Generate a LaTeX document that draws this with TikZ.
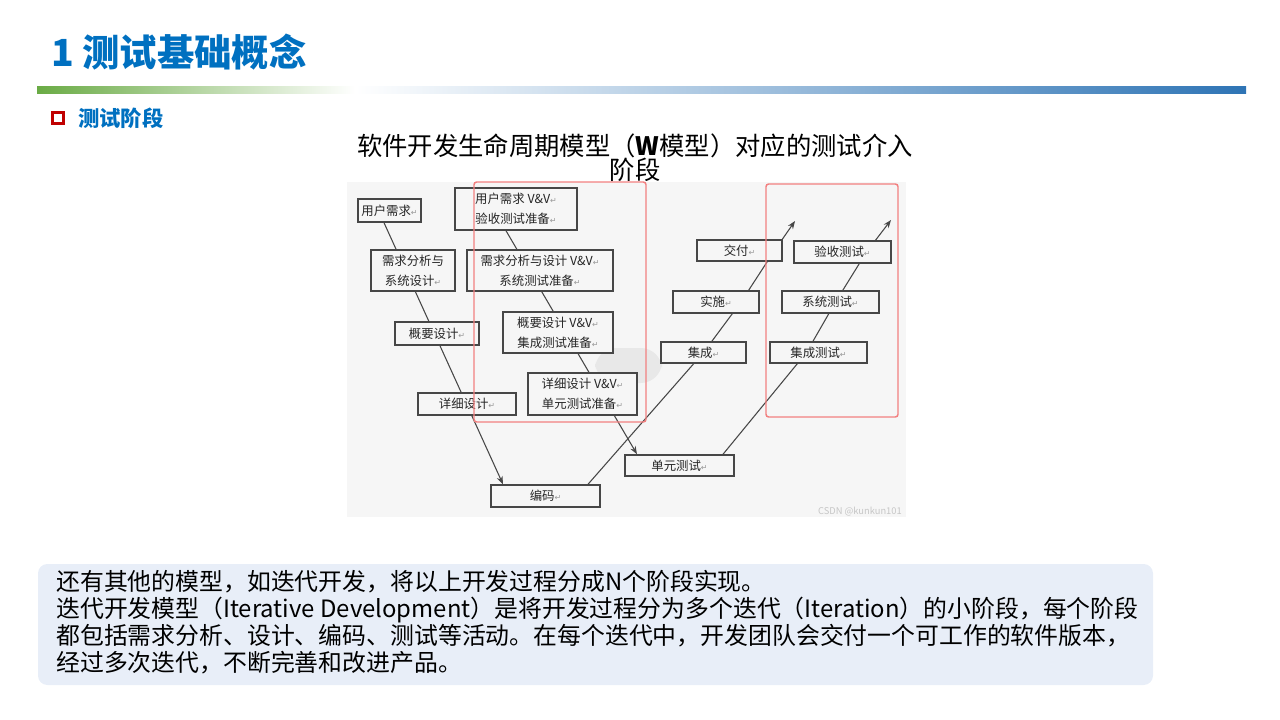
\documentclass[tikz,border=0pt]{standalone}
\usepackage{fontspec}
\setmainfont{Noto Sans CJK SC}
\newfontfamily\symfont{DejaVu Sans}
\usetikzlibrary{arrows.meta,calc}

\definecolor{titleblue}{HTML}{0070C0}
\definecolor{bulletred}{HTML}{C00000}
\definecolor{bargreen}{HTML}{6AAB45}
\definecolor{barblue}{HTML}{2E74B5}
\definecolor{panelgray}{HTML}{F6F6F6}
\definecolor{boxgray}{HTML}{474747}
\definecolor{markred}{HTML}{F28080}
\definecolor{notefill}{HTML}{E8EEF8}

% the little return mark that the scanned boxes carry after each line
\newcommand{\ret}{{\symfont\fontsize{6}{6}\selectfont\color{gray!80}↵}}

\pgfdeclarelayer{bg}
\pgfdeclarelayer{lines}
\pgfsetlayers{bg,lines,main}

\begin{document}
\begin{tikzpicture}[x=0.75pt,y=-0.75pt,
  size/.style 2 args = {minimum width=#1*0.75pt, minimum height=#2*0.75pt},
  stage/.style       = {draw=boxgray, line width=1.1pt, fill=panelgray, inner sep=0pt,
                        text=black!85, font=\fontsize{9.3}{15}\selectfont, align=center},
  flow/.style        = {draw=boxgray, line width=0.8pt},
  arrow/.style       = {flow, -{Stealth[length=6pt,width=4.5pt]}},
  frame/.style       = {draw=markred, line width=1.1pt, rounded corners=2pt},
  heading/.style     = {anchor=west, inner sep=0pt, text=titleblue},
  note/.style        = {anchor=west, align=left, inner sep=0pt,
                        font=\fontsize{17.9}{20.3}\selectfont},
]
  \useasboundingbox (0,0) rectangle (1280,720);

  % header
  \node[heading, font=\fontsize{28}{28}\selectfont\bfseries] (title) at (51,52) {1 测试基础概念};
  \shade[left color=bargreen, right color=white] (37,87) rectangle (355,94);
  \shade[left color=white, right color=barblue] (355,87) rectangle (1246,94);
  \node[draw=bulletred, line width=2.2pt, fill=white, inner sep=0pt, size={11}{11}] (bullet) at (58,118) {};
  \node[heading, font=\fontsize{16}{16}\selectfont\bfseries] (sub) at (78,118) {测试阶段};

  \node[align=center, inner sep=0pt, font=\fontsize{19}{18}\selectfont] (cap) at (635,158)
    {软件开发生命周期模型（\textbf{W}模型）对应的测试介入\\阶段};

  % the W model
  \begin{pgfonlayer}{bg}
    \fill[panelgray] (347,182) rectangle (906,517);
  \end{pgfonlayer}
  \fill[gray!18, rounded corners=16pt] (595,348) rectangle (662,383);

  \node[stage, size={63}{23}]  (yhxq) at (389.5,210.5) {用户需求\ret};
  \node[stage, size={84}{41}]  (xqfx) at (413,270.5)   {需求分析与\\系统设计\ret};
  \node[stage, size={84}{23}]  (gysj) at (437,333.5)   {概要设计\ret};
  \node[stage, size={98}{22}]  (xxsj) at (467,404)     {详细设计\ret};
  \node[stage, size={109}{22}] (bm)   at (545.5,496)   {编码\ret};

  \node[stage, size={122}{42}] (yhvv) at (516,209)     {用户需求 V\&V\ret\\验收测试准备\ret};
  \node[stage, size={146}{41}] (xqvv) at (540,270.5)   {需求分析与设计 V\&V\ret\\系统测试准备\ret};
  \node[stage, size={110}{41}] (gyvv) at (558,332.5)   {概要设计 V\&V\ret\\集成测试准备\ret};
  \node[stage, size={109}{42}] (xxvv) at (582.5,394)   {详细设计 V\&V\ret\\单元测试准备\ret};
  \node[stage, size={109}{21}] (dycs) at (679.5,465.5) {单元测试\ret};

  \node[stage, size={85}{21}]  (jc)   at (703.5,352.5) {集成\ret};
  \node[stage, size={86}{22}]  (ss)   at (716,302)     {实施\ret};
  \node[stage, size={85}{21}]  (jf)   at (739.5,250.5) {交付\ret};

  \node[stage, size={97}{21}]  (jccs) at (818.5,352.5) {集成测试\ret};
  \node[stage, size={97}{22}]  (xtcs) at (830.5,302)   {系统测试\ret};
  \node[stage, size={97}{22}]  (yscs) at (842.5,252)   {验收测试\ret};

  \coordinate (tip1) at (795,221);
  \coordinate (tip2) at (891,220);

  \begin{pgfonlayer}{lines}
    \draw[arrow] ($(yhxq.south)+(-5.5,0)$) -- ($(bm.north)+(-42.5,0)$);
    \draw[arrow] ($(yhvv.south)+(-10,0)$) -- ($(dycs.north)+(-42.5,0)$);
    \draw[arrow] ($(bm.north)+(42.5,0)$) -- (jc.center) -- ($(ss.center)+(25,0)$)
      -- ($(jf.center)+(35,0)$) -- (tip1);
    \draw[arrow] ($(dycs.north)+(43.5,0)$) -- ($(jccs.center)+(-12,0)$)
      -- ($(xtcs.center)+(5,0)$) -- ($(yscs.center)+(24,0)$) -- (tip2);
  \end{pgfonlayer}

  \draw[frame] (474,182) rectangle (646,422);
  \draw[frame] (766,184) rectangle (898,417);

  \node[anchor=east, inner sep=0pt, text=gray!45, font=\fontsize{7}{7}\selectfont] (mark) at (902,512) {CSDN @kunkun101};

  % the note at the bottom
  \fill[notefill, rounded corners=7pt] (38,564) rectangle (1153,685);
  \node[note] (txt) at (56,622)
    {还有其他的模型，如迭代开发，将以上开发过程分成N个阶段实现。\\
     迭代开发模型（Iterative Development）是将开发过程分为多个迭代（Iteration）的小阶段，每个阶段\\
     都包括需求分析、设计、编码、测试等活动。在每个迭代中，开发团队会交付一个可工作的软件版本，\\
     经过多次迭代，不断完善和改进产品。};
\end{tikzpicture}
\end{document}
